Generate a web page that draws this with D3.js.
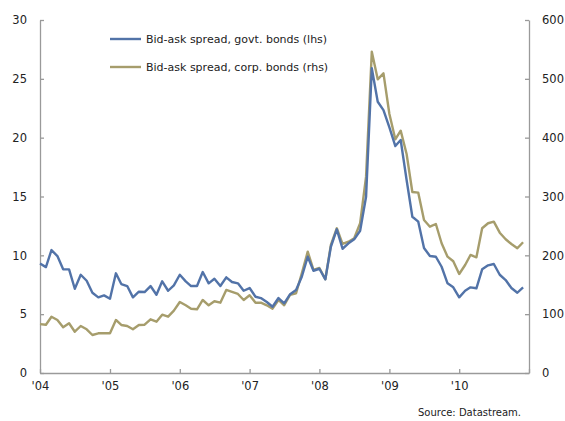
<!DOCTYPE html>
<html>
<head>
<meta charset="utf-8">
<script src="https://cdn.jsdelivr.net/npm/d3@7"></script>
<style>
  html, body { margin: 0; padding: 0; background: #fff; }
  svg { display: block; }
  text { font-family: "DejaVu Sans", sans-serif; fill: #222; }
</style>
</head>
<body>
<svg id="chart" width="565" height="421"></svg>
<script>
// Monthly observations, January 2004 to December 2010
const startMonth = new Date(2004, 0, 1);
const govtSpread = [
  9.3, 9.0, 10.45, 9.94, 8.81, 8.81, 7.16, 8.35, 7.84, 6.82, 6.43, 6.6,
  6.31, 8.47, 7.56, 7.39, 6.43, 6.91, 6.88, 7.39, 6.65, 7.79, 6.99, 7.45,
  8.35, 7.79, 7.39, 7.39, 8.58, 7.62, 8.01, 7.39, 8.13, 7.73, 7.62, 6.99,
  7.22, 6.48, 6.37, 6.03, 5.63, 6.37, 5.92, 6.7, 7.05, 8.18, 9.88, 8.69,
  8.86, 7.96, 10.73, 12.21, 10.56, 11.02, 11.36, 12.09, 14.98, 25.9, 23.05, 22.34,
  20.87, 19.29, 19.8, 16.4, 13.28, 12.86, 10.62, 9.94, 9.88, 9.03, 7.62, 7.28,
  6.43, 6.99, 7.28, 7.2, 8.81, 9.15, 9.26, 8.35, 7.9, 7.22, 6.82, 7.28
];
const corpSpread = [
  83, 82, 95.7, 90.1, 77.7, 84.5, 70.2, 79.9, 74.3, 64.6, 67.5, 67.5,
  67.5, 90.1, 81.6, 79.9, 74.3, 81.6, 82.1, 91.3, 87.2, 99.1, 95.7, 105.9,
  120.7, 115.1, 109.3, 108.3, 124.1, 115.1, 121.9, 119.5, 141.1, 137.7, 134.3, 124.1,
  132.1, 119.5, 119.5, 115.1, 109.3, 124.1, 115.1, 133, 135.5, 169.5, 206.2, 175.1,
  178.5, 159.3, 217.6, 246, 219.3, 223.2, 229, 254.5, 333.7, 546.2, 499.2, 509.4,
  440.2, 397.2, 411.9, 372.3, 307.7, 306.5, 260.1, 248.7, 253.3, 220.5, 197.7, 189.9,
  168.3, 183.6, 200.6, 196.7, 246, 254.5, 257.2, 238.5, 227.3, 219.3, 212, 222.2
];
const leftTicks = [0, 5, 10, 15, 20, 25, 30];
const rightTicks = [0, 100, 200, 300, 400, 500, 600];
const yearTicks = [2004, 2005, 2006, 2007, 2008, 2009, 2010, 2011];
const yearLabels = ["'04", "'05", "'06", "'07", "'08", "'09", "'10", ""];
const seriesNames = ["Bid-ask spread, govt. bonds (lhs)", "Bid-ask spread, corp. bonds (rhs)"];
const sourceNote = "Source: Datastream.";

const blue = "#5273a8", tan = "#a69d6c", axisGrey = "#9a9a9a";
const svg = d3.select("#chart");
const plot = { left: 40, right: 529, top: 20, bottom: 373 };

const x = d3.scaleTime()
  .domain([new Date(2004, 0, 1), new Date(2011, 0, 1)])
  .range([plot.left, plot.right]);
const yL = d3.scaleLinear().domain([0, 30]).range([plot.bottom, plot.top]);
const yR = d3.scaleLinear().domain([0, 600]).range([plot.bottom, plot.top]);

const dates = govtSpread.map((_, i) => d3.timeMonth.offset(startMonth, i));

// Axes: ticks point into the plot area
const styleAxis = g => {
  g.select(".domain").attr("stroke", axisGrey).attr("stroke-width", 1.3);
  g.selectAll(".tick line").attr("stroke", axisGrey).attr("stroke-width", 1.3);
  g.selectAll(".tick text").style("font-size", "11.5px").attr("fill", "#222");
};

svg.append("g")
  .attr("transform", `translate(${plot.left},0)`)
  .call(d3.axisLeft(yL).tickValues(leftTicks).tickSizeInner(-4).tickSizeOuter(0).tickPadding(13))
  .call(styleAxis);

svg.append("g")
  .attr("transform", `translate(${plot.right},0)`)
  .call(d3.axisRight(yR).tickValues(rightTicks).tickSizeInner(-4).tickSizeOuter(0).tickPadding(13))
  .call(styleAxis);

svg.append("g")
  .attr("transform", `translate(0,${plot.bottom})`)
  .call(d3.axisBottom(x)
    .tickValues(yearTicks.map(yy => new Date(yy, 0, 1)))
    .tickFormat((d, i) => yearLabels[i])
    .tickSizeInner(-4).tickSizeOuter(0).tickPadding(9))
  .call(styleAxis);

// Series lines
const lineL = d3.line().x((d, i) => x(dates[i])).y(d => yL(d));
const lineR = d3.line().x((d, i) => x(dates[i])).y(d => yR(d));

svg.append("path").datum(corpSpread)
  .attr("d", lineR).attr("fill", "none")
  .attr("stroke", tan).attr("stroke-width", 2.4).attr("stroke-linejoin", "round");

svg.append("path").datum(govtSpread)
  .attr("d", lineL).attr("fill", "none")
  .attr("stroke", blue).attr("stroke-width", 2.4).attr("stroke-linejoin", "round");

// Legend
const legend = svg.append("g");
[[seriesNames[0], blue, 39], [seriesNames[1], tan, 67]].forEach(([name, col, ly]) => {
  legend.append("line")
    .attr("x1", 110).attr("x2", 141).attr("y1", ly).attr("y2", ly)
    .attr("stroke", col).attr("stroke-width", 2.4);
  legend.append("text")
    .attr("x", 146).attr("y", ly).attr("dy", "0.35em")
    .style("font-size", "11px")
    .text(name);
});

// Source note at the foot of the chart
svg.append("text")
  .attr("x", 521).attr("y", 416)
  .attr("text-anchor", "end")
  .style("font-size", "10px")
  .text(sourceNote);
</script>
</body>
</html>
